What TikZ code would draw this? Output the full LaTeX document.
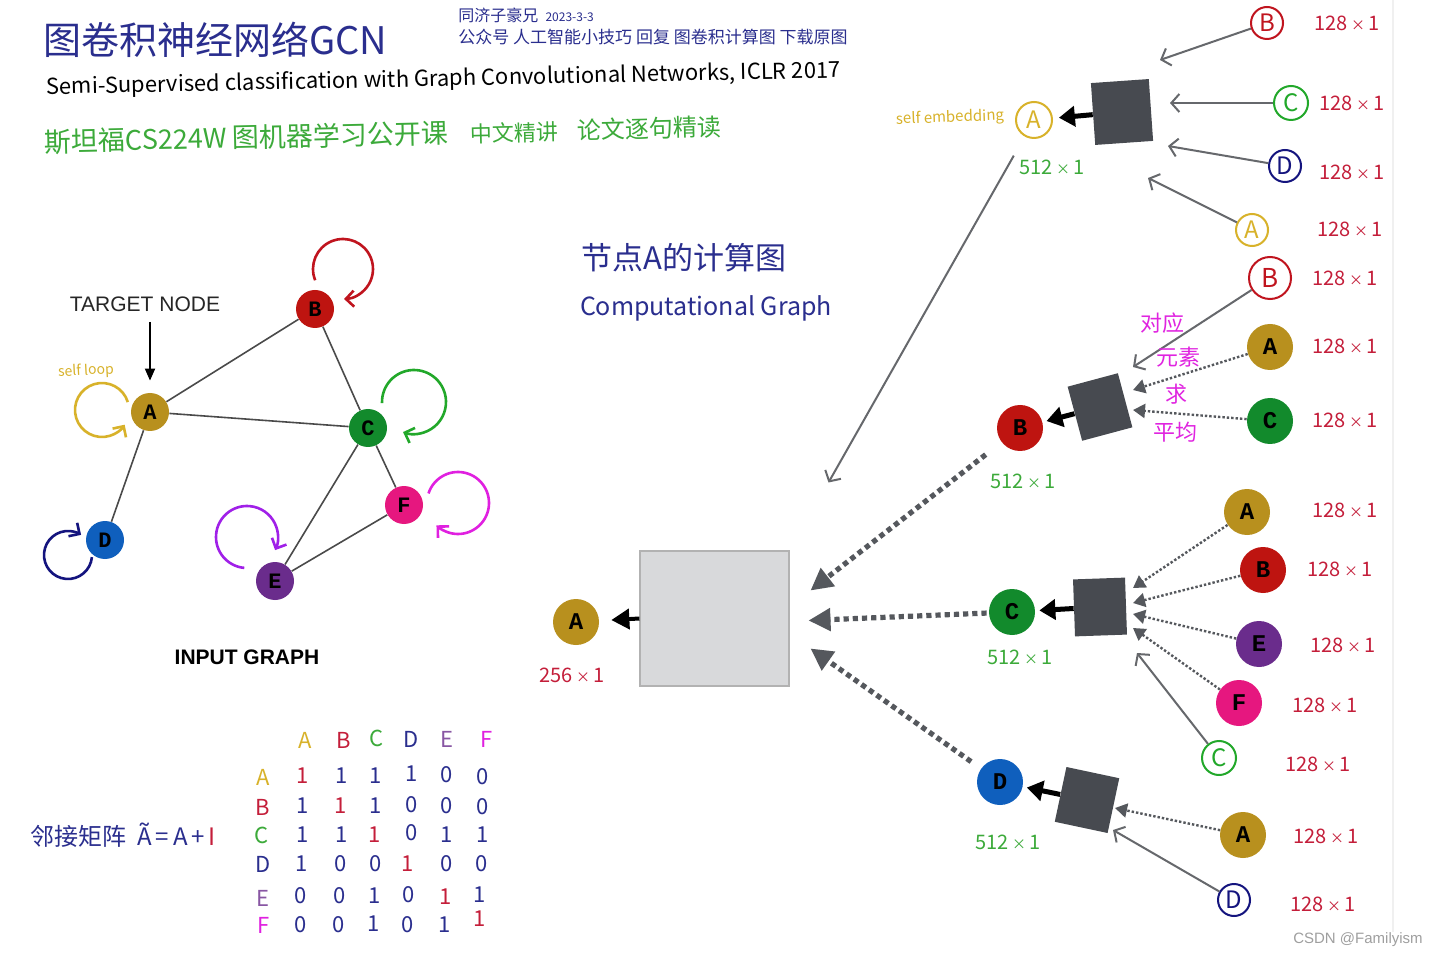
\documentclass[tikz,border=0pt]{standalone}
\usepackage{fontspec}
\usetikzlibrary{arrows.meta,calc}
\newfontfamily\cjk{Noto Sans CJK SC}
\newfontfamily\letterfont{Liberation Mono}
\newfontfamily\capfont{Liberation Sans}
\newcommand\bytimes{\,{\fontsize{7}{7}\selectfont ×}\,}
\definecolor{gold}{HTML}{B8901E}
\definecolor{redfill}{HTML}{BE1410}
\definecolor{greenfill}{HTML}{128A2C}
\definecolor{bluefill}{HTML}{0F5FBD}
\definecolor{purplefill}{HTML}{6A2C8C}
\definecolor{pinkfill}{HTML}{E6177F}
\definecolor{handnavy}{HTML}{2A2E8E}
\definecolor{handgreen}{HTML}{3CAA3A}
\definecolor{handred}{HTML}{C41E3A}
\definecolor{handgold}{HTML}{D8B22A}
\definecolor{handmag}{HTML}{E024E0}
\definecolor{loopred}{HTML}{C0141E}
\definecolor{loopgreen}{HTML}{22A82A}
\definecolor{loopnavy}{HTML}{14147E}
\definecolor{loopviolet}{HTML}{A020E8}
\definecolor{loopmag}{HTML}{E020E0}
\definecolor{boxdark}{HTML}{474A50}
\definecolor{boxlight}{HTML}{D8D9DB}
\definecolor{dotgray}{HTML}{55585D}
\definecolor{feedgray}{HTML}{66686C}
\definecolor{edgegray}{HTML}{4A4A4A}
\tikzset{
  gnode/.style={circle,inner sep=0pt,minimum size=19pt,fill=#1,font=\letterfont\bfseries\fontsize{11}{11}\selectfont},
  tnode/.style={circle,inner sep=0pt,minimum size=23pt,fill=#1,font=\letterfont\bfseries\fontsize{12}{12}\selectfont},
  hnode/.style={circle,inner sep=0pt,draw=#1,text=#1,line width=1pt,font=\cjk\fontsize{12}{12}\selectfont},
  aggbox/.style={fill=boxdark,inner sep=0pt},
  edge/.style={draw=edgegray,line width=0.8pt},
  loopline/.style={draw=#1,line width=1.3pt,-{Straight Barb[length=4pt,width=8pt]}},
  outarrow/.style={line width=2.5pt,-{Triangle[length=8pt,width=10pt]}},
  bigdots/.style={draw=dotgray,line width=2.6pt,dash pattern=on 2.6pt off 2pt,-{Triangle[length=11pt,width=11pt]}},
  smalldots/.style={draw=dotgray,line width=1.2pt,dash pattern=on 1.2pt off 1pt,-{Triangle[length=6pt,width=7pt]}},
  feed/.style={draw=feedgray,line width=1pt,-{Straight Barb[length=4pt,width=9pt]}},
  dimred/.style={inner sep=0pt,text=handred,font=\cjk\fontsize{10}{10}\selectfont},
  dimgreen/.style={inner sep=0pt,text=handgreen,font=\cjk\fontsize{10}{10}\selectfont},
  cell/.style={inner sep=0pt,text=handnavy,font=\cjk\fontsize{11}{11}\selectfont},
  diag/.style={cell,text=handred},
  note/.style={inner sep=0pt,text=handmag,font=\cjk\fontsize{11}{11}\selectfont}
}
\begin{document}
\begin{tikzpicture}[x=0.5pt,y=-0.5pt]
\useasboundingbox[fill=white] (0,0) rectangle (1433,956);
\draw[gray!12,line width=1pt] (1393,0) -- (1393,932);

\node[anchor=west,inner sep=0pt,text=handnavy,font=\cjk\fontsize{19}{19}\selectfont] (title) at (43,40) {图卷积神经网络GCN};
\node[anchor=west,inner sep=0pt,text=handnavy,font=\cjk\fontsize{8}{8}\selectfont] (author) at (458,15) {同济子豪兄\ \ {\fontsize{6}{6}\selectfont 2023-3-3}};
\node[anchor=west,inner sep=0pt,text=handnavy,font=\cjk\fontsize{8.5}{8.5}\selectfont] (wechat) at (458,37) {公众号 人工智能小技巧 回复 图卷积计算图 下载原图};
\node[anchor=west,inner sep=0pt,rotate=1.2,font=\cjk\fontsize{11}{11}\selectfont] (paper) at (46,88) {Semi-Supervised classification with Graph Convolutional Networks, ICLR 2017};
\node[anchor=west,inner sep=0pt,rotate=1.3,text=handgreen,font=\cjk\fontsize{13.5}{13.5}\selectfont] (course) at (44,142) {斯坦福CS224W 图机器学习公开课};
\node[anchor=west,inner sep=0pt,rotate=1.3,text=handgreen,font=\cjk\fontsize{11}{11}\selectfont] (course2) at (470,134) {中文精讲};
\node[anchor=west,inner sep=0pt,rotate=1.3,text=handgreen,font=\cjk\fontsize{12}{12}\selectfont] (course3) at (577,130) {论文逐句精读};

\node[inner sep=0pt,font=\capfont\fontsize{10.5}{10.5}\selectfont,text=black!85] (target) at (145,304) {TARGET NODE};
\node[inner sep=0pt,text=handgold,font=\cjk\fontsize{7}{7}\selectfont,rotate=3] (selfloop) at (86,371) {self loop};
\node[gnode=gold] (A) at (150,412) {A};
\node[gnode=redfill] (B) at (315,309) {B};
\node[gnode=greenfill] (C) at (368,428) {C};
\node[gnode=bluefill] (D) at (105,540) {D};
\node[gnode=purplefill] (E) at (275,581) {E};
\node[gnode=pinkfill] (F) at (404,505) {F};
\draw[edge] (A) -- (B);
\draw[edge] (A) -- (C);
\draw[edge] (A) -- (D);
\draw[edge] (B) -- (C);
\draw[edge] (C) -- (E);
\draw[edge] (C) -- (F);
\draw[edge] (E) -- (F);
\draw[line width=0.9pt,-{Triangle[length=6pt,width=5pt]},shorten >=6pt] ([yshift=-5pt]target.south -| A) -- (A);
\draw[loopline=handgold] (A) ++(-48,-2) ++(343:27) arc[start angle=343,end angle=33,radius=27];
\draw[loopline=loopred] (B) ++(28,-40) ++(158:30) arc[start angle=158,end angle=448,radius=30];
\draw[loopline=loopgreen] (C) ++(46,-26) ++(178:32) arc[start angle=178,end angle=470,radius=32];
\draw[loopline=loopnavy] (D) ++(-37,15) ++(5:24) arc[start angle=5,end angle=303,radius=24];
\draw[loopline=loopviolet] (E) ++(-28,-44) ++(95:31) arc[start angle=95,end angle=385,radius=31];
\draw[loopline=loopmag] (F) ++(54,-2) ++(198:31) arc[start angle=198,end angle=494,radius=31];
\node[inner sep=0pt,font=\capfont\bfseries\fontsize{10.5}{10.5}\selectfont] (input) at (247,657) {INPUT GRAPH};

\node[anchor=west,inner sep=0pt,text=handnavy,font=\cjk\fontsize{12}{12}\selectfont] (adj) at (30,835) {邻接矩阵\ \ Ã\,=\,A\,+\,{\color{handred}I}};
\node[inner sep=0pt,text=handgold,font=\cjk\fontsize{11}{11}\selectfont] (ha) at (305,740) {A};
\node[inner sep=0pt,text=handred,font=\cjk\fontsize{11}{11}\selectfont] (hb) at (344,740) {B};
\node[inner sep=0pt,text=handgreen,font=\cjk\fontsize{11}{11}\selectfont] (hc) at (377,738) {C};
\node[inner sep=0pt,text=handnavy,font=\cjk\fontsize{11}{11}\selectfont] (hd) at (411,739) {D};
\node[inner sep=0pt,text=purplefill!80!white,font=\cjk\fontsize{11}{11}\selectfont] (he) at (447,739) {E};
\node[inner sep=0pt,text=loopmag,font=\cjk\fontsize{11}{11}\selectfont] (hf) at (487,739) {F};
\node[inner sep=0pt,text=handgold,font=\cjk\fontsize{11}{11}\selectfont] (ra) at (263,777) {A};
\node[inner sep=0pt,text=handred,font=\cjk\fontsize{11}{11}\selectfont] (rb) at (263,807) {B};
\node[inner sep=0pt,text=handgreen,font=\cjk\fontsize{11}{11}\selectfont] (rc) at (262,835) {C};
\node[inner sep=0pt,text=handnavy,font=\cjk\fontsize{11}{11}\selectfont] (rd) at (263,864) {D};
\node[inner sep=0pt,text=purplefill!80!white,font=\cjk\fontsize{11}{11}\selectfont] (re) at (263,898) {E};
\node[inner sep=0pt,text=loopmag,font=\cjk\fontsize{11}{11}\selectfont] (rf) at (264,925) {F};
\node[diag] (m11) at (303,776) {1}; \node[cell] (m12) at (342,776) {1}; \node[cell] (m13) at (376,776) {1}; \node[cell] (m14) at (412,774) {1}; \node[cell] (m15) at (447,775) {0}; \node[cell] (m16) at (483,777) {0};
\node[cell] (m21) at (303,806) {1}; \node[diag] (m22) at (341,806) {1}; \node[cell] (m23) at (376,806) {1}; \node[cell] (m24) at (412,805) {0}; \node[cell] (m25) at (447,806) {0}; \node[cell] (m26) at (483,807) {0};
\node[cell] (m31) at (303,835) {1}; \node[cell] (m32) at (342,835) {1}; \node[diag] (m33) at (375,835) {1}; \node[cell] (m34) at (412,833) {0}; \node[cell] (m35) at (447,835) {1}; \node[cell] (m36) at (483,835) {1};
\node[cell] (m41) at (302,864) {1}; \node[cell] (m42) at (341,864) {0}; \node[cell] (m43) at (376,864) {0}; \node[diag] (m44) at (408,864) {1}; \node[cell] (m45) at (447,864) {0}; \node[cell] (m46) at (482,864) {0};
\node[cell] (m51) at (301,896) {0}; \node[cell] (m52) at (340,896) {0}; \node[cell] (m53) at (375,896) {1}; \node[cell] (m54) at (409,895) {0}; \node[diag] (m55) at (446,897) {1}; \node[cell] (m56) at (480,895) {1};
\node[cell] (m61) at (301,925) {0}; \node[cell] (m62) at (339,925) {0}; \node[cell] (m63) at (374,924) {1}; \node[cell] (m64) at (408,925) {0}; \node[cell] (m65) at (445,925) {1}; \node[diag] (m66) at (480,919) {1};

\node[inner sep=0pt,text=handnavy,font=\cjk\fontsize{15.5}{15.5}\selectfont] (cgtitle) at (684,258) {节点A的计算图};
\node[inner sep=0pt,text=handnavy,font=\cjk\fontsize{12.5}{12.5}\selectfont] (cgsub) at (706,308) {Computational Graph};

\node[fill=boxlight,draw=black!30,line width=0.6pt,minimum width=74.5pt,minimum height=67.5pt,inner sep=0pt] (gcnbox) at (714.5,618.5) {};
\node[tnode=gold] (aout) at (576,622) {A};
\node[dimred] (aoutdim) at (572,675) {256\bytimes 1};
\draw[outarrow,line width=2pt,-{Triangle[length=9pt,width=10pt]},shorten >=6pt] (gcnbox.west) -- (aout);

\node[hnode=handgold,minimum size=18pt] (aself) at (1034,120) {A};
\node[inner sep=0pt,text=handgold,font=\cjk\fontsize{7.5}{7.5}\selectfont,rotate=2] (selfemb) at (950,118) {self embedding};
\node[dimgreen] (aselfdim) at (1052,167) {512\bytimes 1};
\node[aggbox,minimum width=29pt,minimum height=31pt,rotate=4] (abox) at (1122,112) {};
\draw[outarrow,shorten >=3pt] (abox) -- (aself);
\node[hnode=loopred,minimum size=16pt] (tb) at (1267,23) {B};
\node[hnode=loopgreen,minimum size=17pt] (tc) at (1291,103) {C};
\node[hnode=loopnavy,minimum size=16pt] (td) at (1285,166) {D};
\node[hnode=handgold,minimum size=16pt] (ta) at (1252,230) {A};
\draw[feed] (tb) -- ($(abox)+(38,-52)$);
\draw[feed] (tc) -- ($(abox)+(48,-9)$);
\draw[feed] (td) -- ($(abox)+(46,34)$);
\draw[feed] (ta) -- ($(abox)+(26,66)$);
\node[dimred] (tbdim) at (1347,23) {128\bytimes 1};
\node[dimred] (tcdim) at (1352,103) {128\bytimes 1};
\node[dimred] (tddim) at (1352,172) {128\bytimes 1};
\node[dimred] (tadim) at (1350,229) {128\bytimes 1};
\draw[feed,shorten <=11pt] (aself) -- ($(gcnbox)+(114,-136)$);

\node[tnode=redfill] (b1) at (1020,428) {B};
\node[dimgreen] (b1dim) at (1023,481) {512\bytimes 1};
\node[aggbox,minimum width=26pt,minimum height=28pt,rotate=15] (bbox) at (1100,407) {};
\draw[outarrow,shorten >=2pt] (bbox) -- (b1);
\node[hnode=loopred,minimum size=21pt,font=\cjk\fontsize{13}{13}\selectfont] (bb) at (1270,278) {B};
\node[tnode=gold] (ba) at (1270,347) {A};
\node[tnode=greenfill] (bc) at (1270,421) {C};
\draw[feed] (bb) -- ($(bbox)+(33,-40)$);
\draw[smalldots] (ba) -- ($(bbox)+(33,-17)$);
\draw[smalldots] (bc) -- ($(bbox)+(33,3)$);
\node[dimred] (bbdim) at (1345,278) {128\bytimes 1};
\node[dimred] (badim) at (1345,346) {128\bytimes 1};
\node[dimred] (bcdim) at (1345,420) {128\bytimes 1};
\node[note] (n1) at (1162,323) {对应};
\node[note] (n2) at (1178,357) {元素};
\node[note] (n3) at (1176,394) {求};
\node[note] (n4) at (1175,432) {平均};
\draw[bigdots,shorten <=10pt] (b1) -- ($(gcnbox)+(96,-28)$);

\node[tnode=greenfill] (c1) at (1012,612) {C};
\node[dimgreen] (c1dim) at (1020,657) {512\bytimes 1};
\node[aggbox,minimum width=26pt,minimum height=28.5pt,rotate=2] (cbox) at (1100,607) {};
\draw[outarrow,shorten >=2pt] (cbox) -- (c1);
\node[tnode=gold] (ca) at (1247,512) {A};
\node[tnode=redfill] (cb) at (1263,570) {B};
\node[tnode=purplefill] (ce) at (1259,644) {E};
\node[tnode=pinkfill] (cf) at (1239,703) {F};
\node[hnode=loopgreen,minimum size=17pt] (cc) at (1219,758) {C};
\draw[smalldots] (ca) -- ($(cbox)+(33,-19)$);
\draw[smalldots] (cb) -- ($(cbox)+(33,-4)$);
\draw[smalldots] (ce) -- ($(cbox)+(33,7)$);
\draw[smalldots] (cf) -- ($(cbox)+(33,21)$);
\draw[feed] (cc) -- ($(cbox)+(37,46)$);
\node[dimred] (cadim) at (1345,510) {128\bytimes 1};
\node[dimred] (cbdim) at (1340,569) {128\bytimes 1};
\node[dimred] (cedim) at (1343,645) {128\bytimes 1};
\node[dimred] (cfdim) at (1325,705) {128\bytimes 1};
\node[dimred] (ccdim) at (1318,764) {128\bytimes 1};
\draw[bigdots,shorten <=1pt] (c1) -- ($(gcnbox)+(94,2)$);

\node[tnode=bluefill] (d1) at (1000,782) {D};
\node[dimgreen] (d1dim) at (1008,842) {512\bytimes 1};
\node[aggbox,minimum width=27pt,minimum height=28pt,rotate=-12] (dbox) at (1087,800) {};
\draw[outarrow,shorten >=2pt] (dbox) -- (d1);
\node[tnode=gold] (da) at (1243,835) {A};
\node[hnode=loopnavy,minimum size=16pt] (dd) at (1234,900) {D};
\draw[smalldots] (da) -- ($(dbox)+(28,8)$);
\draw[feed] (dd) -- ($(dbox)+(26,30)$);
\node[dimred] (dadim) at (1326,836) {128\bytimes 1};
\node[dimred] (dddim) at (1323,904) {128\bytimes 1};
\draw[bigdots,shorten <=6pt] (d1) -- ($(gcnbox)+(96,30)$);

\node[inner sep=0pt,text=gray!75,font=\capfont\fontsize{7.5}{7.5}\selectfont] (mark) at (1358,940) {CSDN @Familyism};
\end{tikzpicture}
\end{document}
